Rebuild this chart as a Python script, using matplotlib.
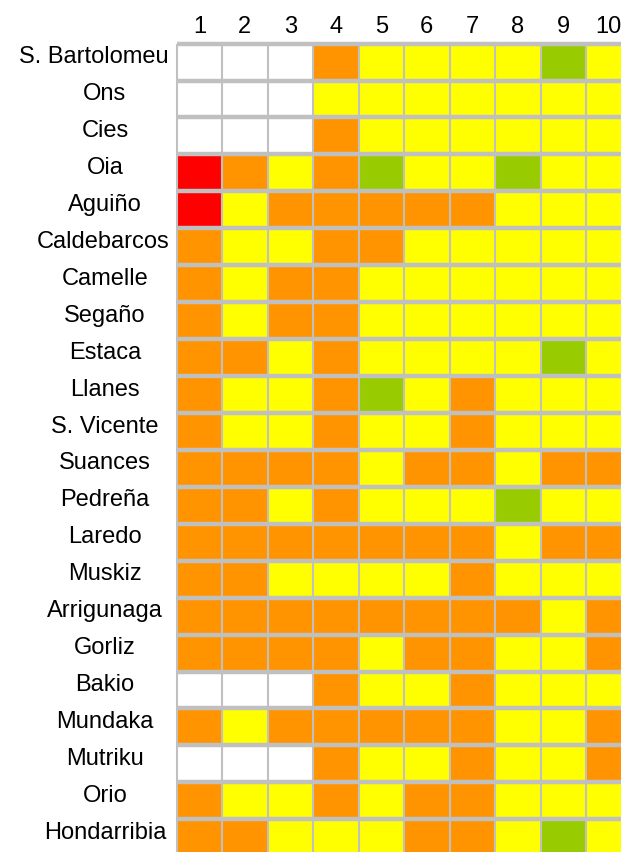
"""Colour-coded station grid (22 stations x 10 periods)."""

import matplotlib

matplotlib.use("Agg")
import matplotlib.pyplot as plt
import numpy as np
from matplotlib.colors import ListedColormap

stations = [
    "S. Bartolomeu", "Ons", "Cies", "Oia", "Aguiño", "Caldebarcos",
    "Camelle", "Segaño", "Estaca", "Llanes", "S. Vicente", "Suances",
    "Pedreña", "Laredo", "Muskiz", "Arrigunaga", "Gorliz", "Bakio",
    "Mundaka", "Mutriku", "Orio", "Hondarribia",
]
columns = ["1", "2", "3", "4", "5", "6", "7", "8", "9", "10"]

# W = no data, R = red, O = orange, Y = yellow, G = green
categories = ["W", "R", "O", "Y", "G"]
category_colors = ["#FFFFFF", "#FF0000", "#FF9400", "#FFFF00", "#99CC00"]

cells = [
    "WWWOYYYYGY",  # S. Bartolomeu
    "WWWYYYYYYY",  # Ons
    "WWWOYYYYYY",  # Cies
    "ROYOGYYGYY",  # Oia
    "RYOOOOOYYY",  # Aguiño
    "OYYOOYYYYY",  # Caldebarcos
    "OYOOYYYYYY",  # Camelle
    "OYOOYYYYYY",  # Segaño
    "OOYOYYYYGY",  # Estaca
    "OYYOGYOYYY",  # Llanes
    "OYYOYYOYYY",  # S. Vicente
    "OOOOYOOYOO",  # Suances
    "OOYOYYYGYY",  # Pedreña
    "OOOOOOOYOO",  # Laredo
    "OOYYYYOYYY",  # Muskiz
    "OOOOOOOOYO",  # Arrigunaga
    "OOOOYOOYYO",  # Gorliz
    "WWWOYYOYYY",  # Bakio
    "OYOOOOOYYO",  # Mundaka
    "WWWOYYOYYO",  # Mutriku
    "OYYOYOOYYY",  # Orio
    "OOYYYOOYGY",  # Hondarribia
]

W, H, DPI = 621, 852, 100
GRID_LEFT, GRID_RIGHT = 176.7, 631.5   # pixels, grid runs past the right edge
GRID_TOP, GRID_BOTTOM = 43.6, 856.2
LINE = "#C0C0C0"
FONT = "Liberation Sans"

codes = np.array([[categories.index(c) for c in row] for row in cells])
n_rows, n_cols = codes.shape

fig = plt.figure(figsize=(W / DPI, H / DPI), dpi=DPI)
ax = fig.add_axes([
    GRID_LEFT / W,
    (H - GRID_BOTTOM) / H,
    (GRID_RIGHT - GRID_LEFT) / W,
    (GRID_BOTTOM - GRID_TOP) / H,
])
ax.pcolormesh(
    np.arange(n_cols + 1), np.arange(n_rows + 1), codes,
    cmap=ListedColormap(category_colors), vmin=-0.5, vmax=len(categories) - 0.5,
)
ax.set_xlim(0, n_cols)
ax.set_ylim(n_rows, 0)
ax.axis("off")

# thick grey bands between rows, thin lines between columns
ax.vlines(np.arange(n_cols + 1), 0, n_rows, color=LINE, linewidth=1.5, clip_on=False)
ax.hlines(np.arange(n_rows + 1), 0, n_cols, color=LINE, linewidth=3.2, clip_on=False)

for j, label in enumerate(columns):
    ax.text(j + 0.5, -0.3, label, ha="center", va="baseline",
            fontsize=17, family=FONT)

# row labels: centred around x=105 px but kept clear of the grid
col_w = (GRID_RIGHT - GRID_LEFT) / n_cols
x_center = (105 - GRID_LEFT) / col_w
x_limit = (169 - GRID_LEFT) / col_w
fig.canvas.draw()
renderer = fig.canvas.get_renderer()
for i, name in enumerate(stations):
    t = ax.text(x_center, i + 0.53, name, ha="center", va="baseline",
                fontsize=17, family=FONT, clip_on=False)
    if t.get_window_extent(renderer).x1 > 169:
        t.set_x(x_limit)
        t.set_ha("right")

fig.savefig("out.png", dpi=DPI)
